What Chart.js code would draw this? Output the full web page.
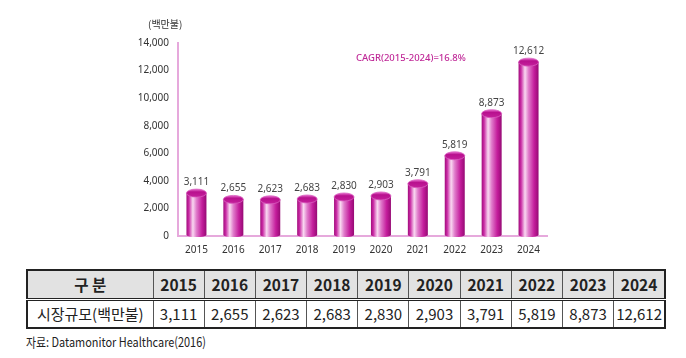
<!DOCTYPE html>
<html><head><meta charset="utf-8">
<script src="https://cdn.jsdelivr.net/npm/chart.js@4.4.0/dist/chart.umd.min.js"></script>
<style>
html,body{margin:0;padding:0;background:#fff;width:686px;height:358px;overflow:hidden;position:relative;font-family:"Noto Sans CJK KR","Noto Sans",sans-serif;}
#wrap{position:absolute;left:0;top:0;width:686px;height:262px;}
#unit{position:absolute;left:148px;top:16px;font-size:10px;color:#333;}
table{position:absolute;left:26px;top:269px;width:640px;height:60px;border-collapse:collapse;border:2px solid #222;table-layout:fixed;}
td,th{border:1px solid #555;text-align:center;font-size:15px;color:#222;padding:0;line-height:26px;}
th{background:#e2e2e2;font-weight:600;border-bottom:3px double #222;font-size:15.5px;}
#src{position:absolute;left:26px;top:332px;font-size:13px;color:#222;white-space:nowrap;transform-origin:left top;transform:scaleX(0.84);}
</style></head><body>
<div id="wrap"><canvas id="c" width="686" height="262"></canvas></div>
<div id="unit">(백만불)</div>
<table id="tbl"></table>
<div id="src">자료: Datamonitor Healthcare(2016)</div>
<script>
const categories = ["2015","2016","2017","2018","2019","2020","2021","2022","2023","2024"];
const marketSize = [3111,2655,2623,2683,2830,2903,3791,5819,8873,12612];
const yTicks = [0,2000,4000,6000,8000,10000,12000,14000];
const rowHeader = "구 분";
const rowLabel = "시장규모(백만불)";
const cagrText = "CAGR(2015-2024)=16.8%";

// table
const tbl = document.getElementById('tbl');
let h = '<colgroup><col style="width:126px">' + categories.map(()=>'<col>').join('') + '</colgroup>';
h += '<tr><th>' + rowHeader + '</th>' + categories.map(c=>'<th>'+c+'</th>').join('') + '</tr>';
h += '<tr><td>' + rowLabel + '</td>' + marketSize.map(v=>'<td>'+v.toLocaleString('en-US')+'</td>').join('') + '</tr>';
tbl.innerHTML = h;

const cylPlugin = {
  id:'cyl',
  afterDatasetsDraw(chart){
    const ctx = chart.ctx;
    const meta = chart.getDatasetMeta(0);
    const ry = 4;
    meta.data.forEach((bar,i)=>{
      const x = bar.x, y = bar.y, base = bar.base, w = bar.width;
      const l = x - w/2, r = x + w/2;
      const g = ctx.createLinearGradient(l,0,r,0);
      g.addColorStop(0,'#a10d7c');
      g.addColorStop(0.12,'#c92aa4');
      g.addColorStop(0.32,'#f9d8f1');
      g.addColorStop(0.5,'#e07ccb');
      g.addColorStop(0.78,'#c41d9c');
      g.addColorStop(1,'#960a74');
      ctx.save();
      ctx.beginPath();
      ctx.moveTo(l,y);
      ctx.lineTo(l,base-1);
      ctx.ellipse(x,base-1,w/2,2,0,Math.PI,0,true);
      ctx.lineTo(r,y);
      ctx.closePath();
      ctx.fillStyle = g;
      ctx.fill();
      // top
      const tg = ctx.createLinearGradient(0,y-ry,0,y+ry);
      tg.addColorStop(0,'#e870cf');
      tg.addColorStop(0.35,'#b8108e');
      tg.addColorStop(1,'#c4209c');
      ctx.beginPath();
      ctx.ellipse(x,y,w/2,ry,0,0,Math.PI*2);
      ctx.fillStyle = tg;
      ctx.fill();
      ctx.lineWidth = 0.8;
      ctx.strokeStyle = '#d95ebf';
      ctx.stroke();
      // label
      ctx.fillStyle = '#444';
      ctx.font = '10px "Noto Sans", sans-serif';
      ctx.textAlign = 'center';
      ctx.textBaseline = 'bottom';
      ctx.fillText(marketSize[i].toLocaleString('en-US'), x, y - ry - 2);
      ctx.restore();
    });
    // CAGR
    ctx.save();
    ctx.fillStyle = '#c02a98';
    ctx.font = '500 9.5px "Noto Sans", sans-serif';
    ctx.textAlign = 'left';
    ctx.textBaseline = 'middle';
    ctx.fillText(cagrText, 356, 58);
    ctx.restore();
  }
};

new Chart(document.getElementById('c'), {
  type:'bar',
  data:{labels:categories,datasets:[{data:marketSize,backgroundColor:'rgba(0,0,0,0)',borderWidth:0,barThickness:20}]},
  options:{
    responsive:false,animation:false,
    layout:{padding:{left:0,top:43,right:139,bottom:0}},
    plugins:{legend:{display:false},tooltip:{enabled:false}},
    scales:{
      x:{
        grid:{display:false,drawTicks:false},
        border:{color:'#e6a9dc',width:2},
        ticks:{color:'#333',font:{size:10,family:'"Noto Sans", sans-serif'},padding:8},
        afterFit(s){s.height=26;}
      },
      y:{
        min:0,max:14000,
        afterBuildTicks(s){s.ticks = yTicks.map(v=>({value:v}));},
        grid:{display:false,drawTicks:false},
        border:{color:'#e6a9dc',width:2},
        ticks:{color:'#333',font:{size:10,family:'"Noto Sans", sans-serif'},padding:9,callback:v=>v.toLocaleString('en-US')},
        afterFit(s){s.width=178;}
      }
    }
  },
  plugins:[cylPlugin]
});
</script>
</body></html>
